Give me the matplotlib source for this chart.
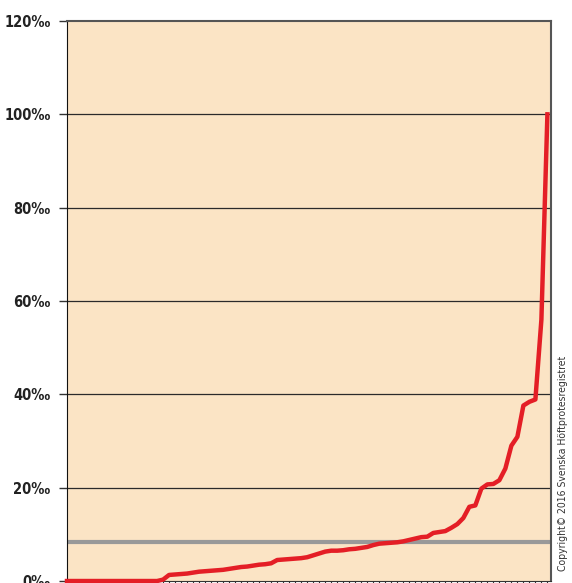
import numpy as np
import matplotlib.pyplot as plt

# =========================
# DATA (per mille, sorted per unit)
# =========================
rates = [0, 0, 0, 0, 0, 0, 0, 0, 0, 0, 0, 0, 0, 0, 0, 0,
         0.3, 1.3, 1.4, 1.5, 1.6, 1.8, 2.0, 2.1, 2.2, 2.3,
         2.4, 2.6, 2.8, 3.0, 3.1, 3.3, 3.5, 3.6, 3.8, 4.5,
         4.6, 4.7, 4.8, 4.9, 5.1, 5.5, 5.9, 6.3, 6.5, 6.5,
         6.6, 6.8, 6.9, 7.1, 7.3, 7.7, 8.0, 8.1, 8.2, 8.3,
         8.5, 8.8, 9.1, 9.4, 9.5, 10.3, 10.5, 10.7, 11.4, 12.2,
         13.5, 15.9, 16.2, 19.8, 20.7, 20.8, 21.6, 24.1, 29.0, 30.9,
         37.6, 38.4, 38.9, 56.0, 100.0]
national = 8.4
yticks = [0, 20, 40, 60, 80, 100, 120]
ytick_labels = ["0‰", "20‰", "40‰", "60‰", "80‰", "100‰", "120‰"]
copyright_text = "Copyright© 2016 Svenska Höftprotesregistret"

x = np.arange(len(rates))

# =========================
# PLOT
# =========================
fig = plt.figure(figsize=(5.72, 5.83), dpi=100)
ax = fig.add_axes([0.1171, 0.0034, 0.8462, 0.9606])
ax.set_facecolor("#FBE4C5")

for y in yticks[1:-1]:
    ax.axhline(y, color="#2a2a2a", lw=0.9, zorder=1)

ax.axhline(national, color="#999999", lw=3, zorder=2)
ax.plot(x, rates, color="#E41E26", lw=3.2, zorder=3, clip_on=False,
        solid_joinstyle="round")

ax.set_xlim(0, len(rates) - 1 + 0.6)
ax.set_ylim(0, 120)
ax.set_xticks(x)
ax.set_xticklabels([])
ax.tick_params(axis="x", direction="out", length=3, width=0.8, color="#333333")
ax.set_yticks(yticks)
ax.set_yticklabels(ytick_labels, fontsize=10.5, fontweight="bold",
                   family="DejaVu Sans", fontstretch="condensed", color="#222222")
ax.tick_params(axis="y", direction="out", length=6, width=1, color="#333333", pad=6)

ax.spines["left"].set_color("#111111")
ax.spines["top"].set_color("#555555")
ax.spines["top"].set_linewidth(1.5)
ax.spines["right"].set_color("#555555")
ax.spines["right"].set_linewidth(1.5)
ax.spines["bottom"].set_color("#333333")

fig.text(0.984, 1 - 356 / 583, copyright_text, rotation=90, ha="center", va="top",
         fontsize=7.5, family="DejaVu Sans", fontstretch="condensed", color="#333333")

plt.savefig("out.png", dpi=100)
